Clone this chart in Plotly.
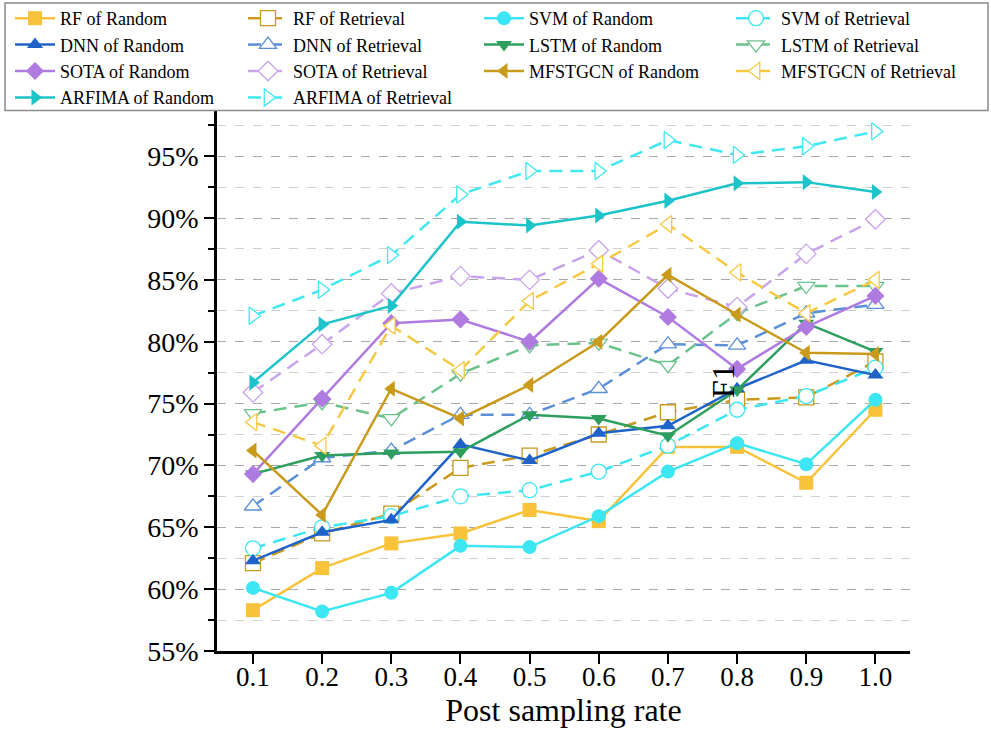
import plotly.graph_objects as go

x_rates = [0.1, 0.2, 0.3, 0.4, 0.5, 0.6, 0.7, 0.8, 0.9, 1.0]
x_labels = ["0.1", "0.2", "0.3", "0.4", "0.5", "0.6", "0.7", "0.8", "0.9", "1.0"]
y_ticks = [55, 60, 65, 70, 75, 80, 85, 90, 95]

rf_random = [58.3, 61.7, 63.7, 64.5, 66.4, 65.5, 71.5, 71.5, 68.6, 74.5]
rf_retrieval = [62.1, 64.5, 66.1, 69.8, 70.8, 72.5, 74.3, 75.3, 75.5, 78.4]
svm_random = [60.1, 58.2, 59.7, 63.5, 63.4, 65.9, 69.5, 71.8, 70.1, 75.3]
svm_retrieval = [63.3, 65.0, 65.9, 67.5, 68.0, 69.5, 71.6, 74.5, 75.6, 77.9]
dnn_random = [62.3, 64.6, 65.6, 71.7, 70.4, 72.6, 73.2, 76.2, 78.5, 77.3]
dnn_retrieval = [66.7, 70.6, 71.2, 74.1, 74.1, 76.2, 79.8, 79.7, 82.3, 83.0]
lstm_random = [69.3, 70.8, 71.0, 71.1, 74.1, 73.8, 72.4, 76.1, 81.5, 79.2]
lstm_retrieval = [74.2, 75.1, 73.8, 77.4, 79.7, 79.9, 78.1, 82.3, 84.5, 84.5]
sota_random = [69.3, 75.4, 81.5, 81.8, 80.0, 85.1, 82.0, 77.8, 81.2, 83.7]
sota_retrieval = [75.9, 79.8, 83.9, 85.3, 85.0, 87.4, 84.3, 82.8, 87.1, 89.9]
mfstgcn_random = [71.2, 66.0, 76.2, 73.8, 76.5, 80.0, 85.4, 82.2, 79.1, 79.0]
mfstgcn_retrieval = [73.5, 71.6, 81.3, 77.7, 83.3, 86.3, 89.5, 85.6, 82.3, 85.0]
arfima_random = [76.7, 81.4, 82.9, 89.7, 89.4, 90.2, 91.4, 92.8, 92.9, 92.1]
arfima_retrieval = [82.1, 84.2, 87.0, 91.9, 93.8, 93.8, 96.3, 95.1, 95.8, 97.0]

# (name, values, colour, symbol, hollow/dashed, legend column)
series = [
    ("RF of Random", rf_random, "#F8C33A", "square", False, "legend"),
    ("RF of Retrieval", rf_retrieval, "#C99A1C", "square", True, "legend2"),
    ("SVM of Random", svm_random, "#3CE6F2", "circle", False, "legend3"),
    ("SVM of Retrieval", svm_retrieval, "#3CE6F2", "circle", True, "legend4"),
    ("DNN of Random", dnn_random, "#1F63C9", "triangle-up", False, "legend"),
    ("DNN of Retrieval", dnn_retrieval, "#5B8FD8", "triangle-up", True, "legend2"),
    ("LSTM of Random", lstm_random, "#2E9E5F", "triangle-down", False, "legend3"),
    ("LSTM of Retrieval", lstm_retrieval, "#6CC28C", "triangle-down", True, "legend4"),
    ("SOTA of Random", sota_random, "#B07BE0", "diamond", False, "legend"),
    ("SOTA of Retrieval", sota_retrieval, "#C9A4EC", "diamond", True, "legend2"),
    ("MFSTGCN of Random", mfstgcn_random, "#C99A1C", "triangle-left", False, "legend3"),
    ("MFSTGCN of Retrieval", mfstgcn_retrieval, "#F6C944", "triangle-left", True, "legend4"),
    ("ARFIMA of Random", arfima_random, "#1CC3C9", "triangle-right", False, "legend"),
    ("ARFIMA of Retrieval", arfima_retrieval, "#40E8F2", "triangle-right", True, "legend2"),
]

fig = go.Figure()
for name, vals, col, sym, hollow, leg in series:
    if hollow:
        marker = dict(symbol=sym, size=15, color="white", line=dict(color=col, width=1.3))
        line = dict(color=col, width=2.5, dash="13px,8px")
    else:
        marker = dict(symbol=sym, size=14, color=col, line=dict(color=col, width=0))
        line = dict(color=col, width=2.5)
    fig.add_trace(go.Scatter(x=x_rates, y=vals, name=name, mode="lines+markers",
                             marker=marker, line=line, legend=leg, hoverinfo="skip"))

font_family = "Liberation Serif, Times New Roman, serif"

W, H = 991, 734
ML, MR, MT, MB = 217, 81, 111, 83
PW, PH = W - ML - MR, H - MT - MB


def leg(xpx):
    return dict(
        orientation="v", xref="container", yref="container",
        x=xpx / W, y=1.0, xanchor="left", yanchor="top",
        font=dict(size=18, family=font_family, color="black"),
        bgcolor="rgba(0,0,0,0)", borderwidth=0,
        itemwidth=40, tracegroupgap=0, traceorder="normal",
    )


fig.update_layout(
    width=W, height=H,
    margin=dict(l=ML, r=MR, t=MT, b=MB, autoexpand=False),
    paper_bgcolor="white", plot_bgcolor="white",
    font=dict(family=font_family, color="black"),
    showlegend=True, hovermode=False, dragmode=False,
    legend=leg(10), legend2=leg(243), legend3=leg(479), legend4=leg(731),
    xaxis=dict(
        range=[0.048, 1.05], tickvals=x_rates, ticktext=x_labels,
        showgrid=False, zeroline=False,
        showline=True, linecolor="black", linewidth=2.5,
        ticks="outside", ticklen=10, tickwidth=2, tickcolor="black",
        tickfont=dict(size=27, family=font_family), ticklabelstandoff=-10,
        title=dict(text="Post sampling rate", font=dict(size=32, family=font_family), standoff=2),
    ),
    yaxis=dict(
        range=[55, 98.65], tickvals=y_ticks, ticktext=[f"{v}%" for v in y_ticks],
        showgrid=True, gridcolor="#a8a8a8", gridwidth=1, griddash="dash",
        zeroline=False,
        showline=True, linecolor="black", linewidth=2.5,
        ticks="outside", ticklen=10, tickwidth=2, tickcolor="black",
        tickfont=dict(size=28, family=font_family),
        minor=dict(dtick=2.5, tick0=55, ticks="outside", ticklen=6, tickwidth=2,
                   tickcolor="black", showgrid=True, gridcolor="#cfcfcf",
                   gridwidth=1, griddash="dash"),
        title=dict(text="F1", font=dict(size=32, family=font_family), standoff=14),
    ),
)

# legend frame
fig.add_shape(type="rect", xref="paper", yref="paper",
              x0=(5 - ML) / PW, x1=(988 - ML) / PW,
              y0=(H - MB - 110.5) / PH, y1=(H - MB - 3) / PH,
              line=dict(color="#8a8a8a", width=1.5), fillcolor="rgba(0,0,0,0)",
              layer="above")

fig.write_html("out.html")
